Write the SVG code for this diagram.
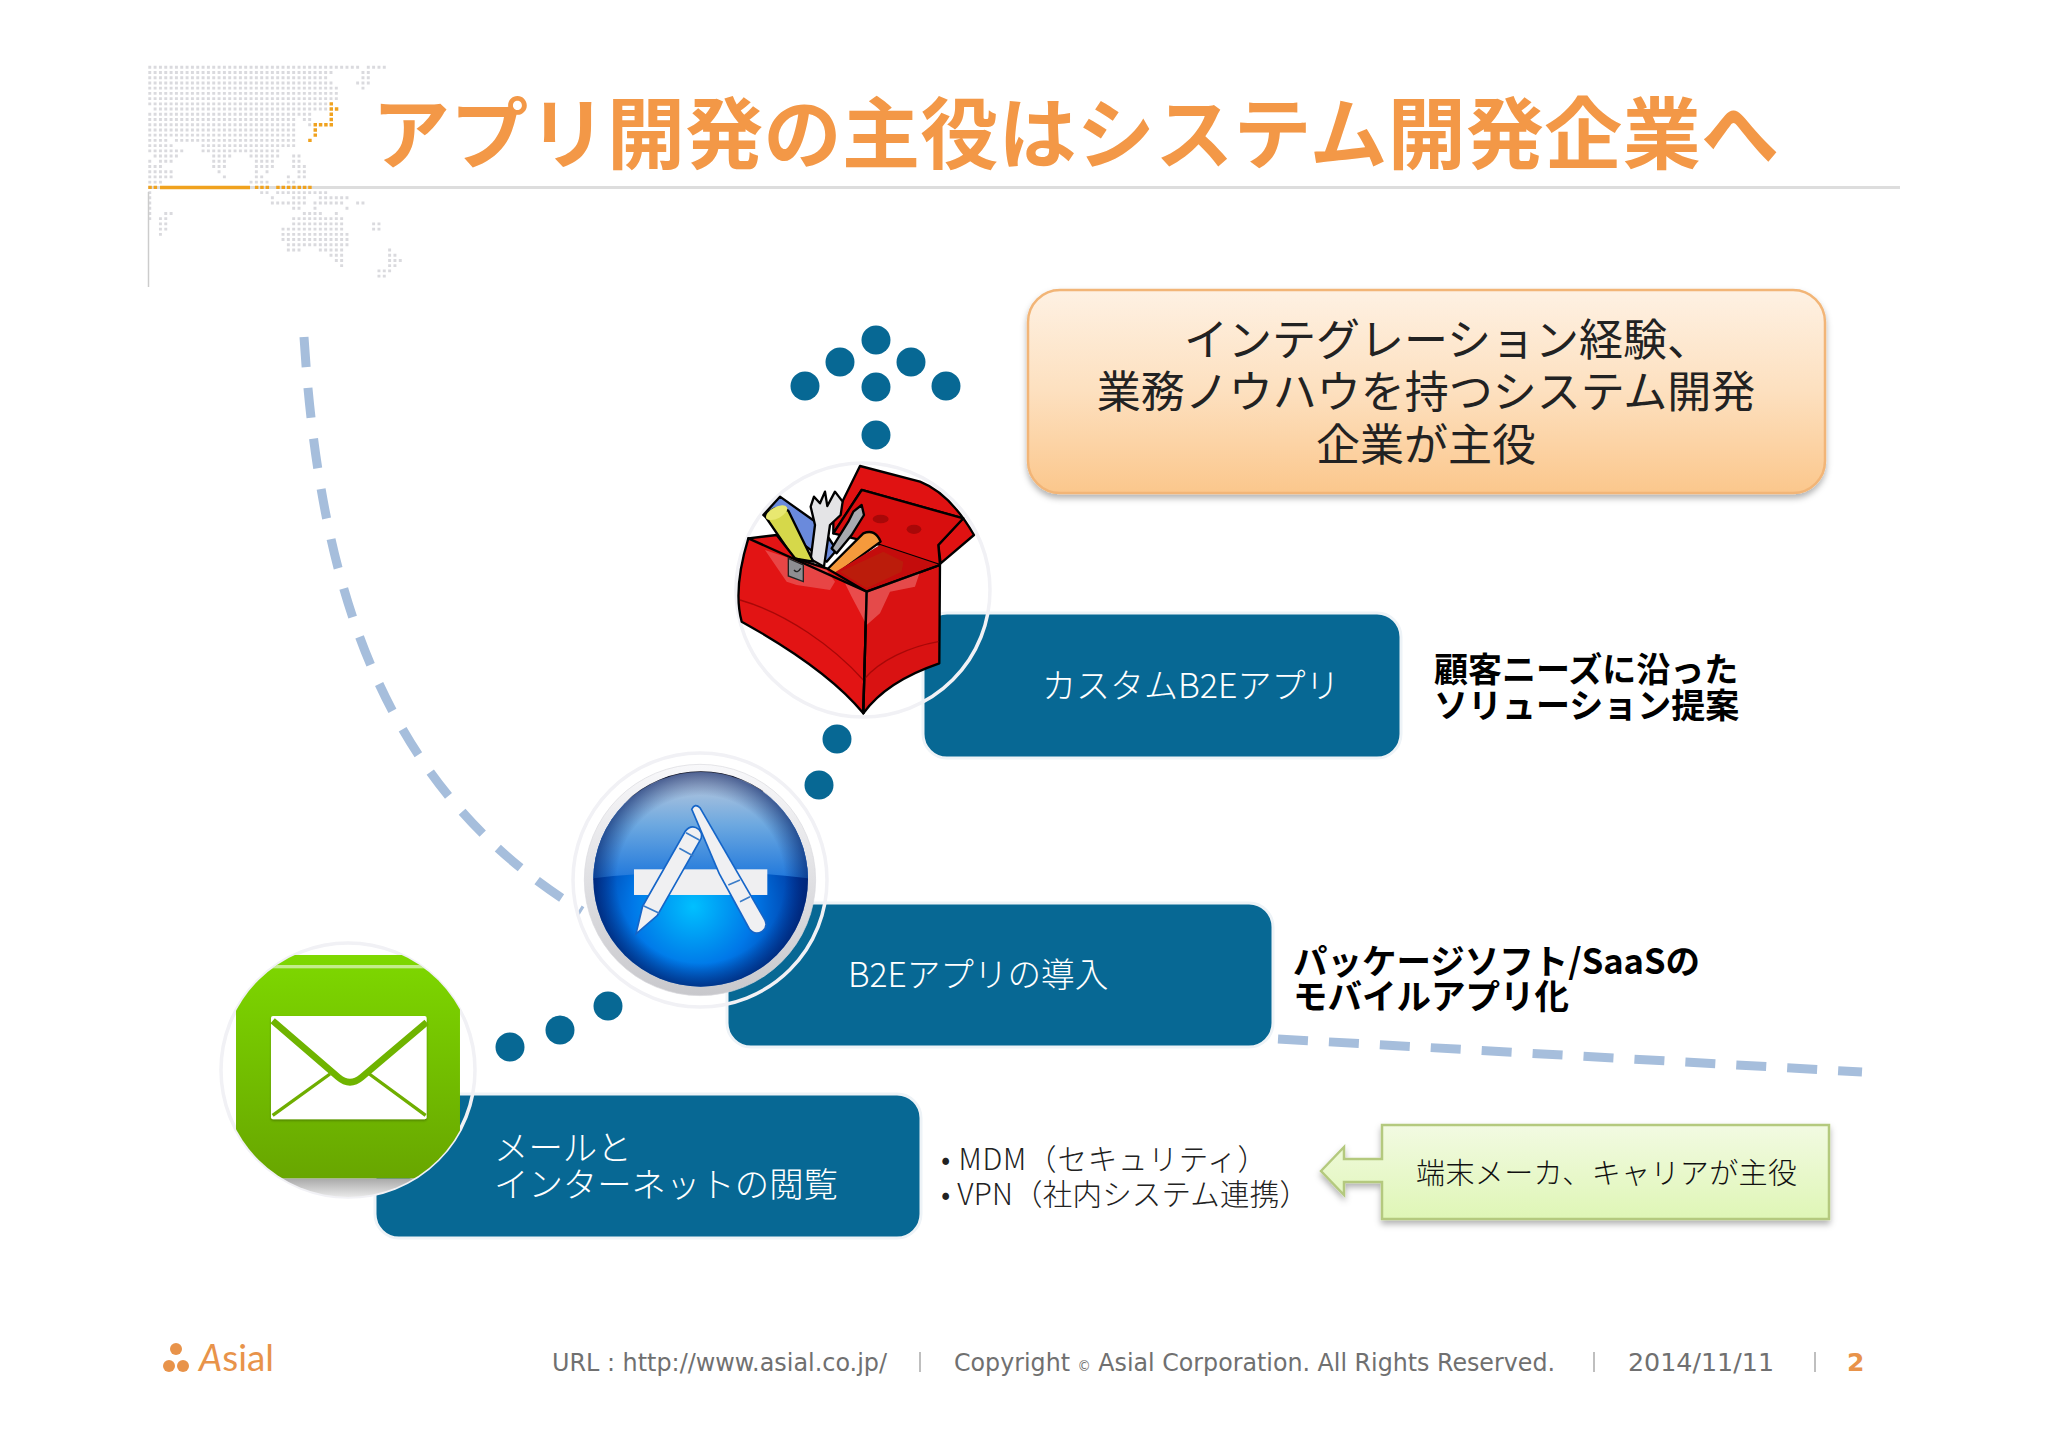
<svg xmlns="http://www.w3.org/2000/svg" width="2048" height="1447" viewBox="0 0 2048 1447">
<defs>
<linearGradient id="gOrange" x1="0" y1="0" x2="0" y2="1"><stop offset="0" stop-color="#FEF1E3"/><stop offset="0.5" stop-color="#FDE0BF"/><stop offset="1" stop-color="#FBC78C"/></linearGradient>
<linearGradient id="gGreenBox" x1="0" y1="0" x2="0" y2="1"><stop offset="0" stop-color="#F2FAE2"/><stop offset="1" stop-color="#DFF6B6"/></linearGradient>
<linearGradient id="gMail" x1="0" y1="0" x2="0" y2="1"><stop offset="0" stop-color="#7ED800"/><stop offset="1" stop-color="#68A600"/></linearGradient>
<linearGradient id="gShade" x1="0" y1="0" x2="0" y2="1"><stop offset="0" stop-color="#A8A8A8"/><stop offset="1" stop-color="#EEEEEE"/></linearGradient>
<linearGradient id="gSilver" x1="0" y1="0" x2="0" y2="1"><stop offset="0" stop-color="#F8F8FA"/><stop offset="1" stop-color="#C8C8CC"/></linearGradient>
<radialGradient id="gBlue" gradientUnits="userSpaceOnUse" cx="400" cy="470" r="330"><stop offset="0" stop-color="#00C0FF"/><stop offset="0.55" stop-color="#0078E8"/><stop offset="1" stop-color="#0038A0"/></radialGradient>
<linearGradient id="gGloss" x1="0" y1="0" x2="0" y2="1"><stop offset="0" stop-color="#C4CCDC"/><stop offset="0.5" stop-color="#6CA8E0"/><stop offset="1" stop-color="#2078DC"/></linearGradient>
<radialGradient id="gEdge" gradientUnits="userSpaceOnUse" cx="422" cy="388" r="322"><stop offset="0.78" stop-color="#001A60" stop-opacity="0"/><stop offset="1" stop-color="#001A60" stop-opacity="0.6"/></radialGradient>
<clipPath id="cMail"><circle cx="415" cy="420" r="381"/></clipPath>
<filter id="fShadow" x="-5%" y="-10%" width="110%" height="125%"><feDropShadow dx="0" dy="4" stdDeviation="3" flood-color="#000" flood-opacity="0.3"/></filter>
</defs>
<style>
text{font-family:"Noto Sans CJK JP","Liberation Sans",sans-serif}
.bar{fill:#076894;stroke:#EEF3F7;stroke-width:3}
.ring{fill:none;stroke:#F1F1F5;stroke-width:3.5}
.dot{fill:#076894}
.dash{fill:none;stroke:#A6BEDC;stroke-width:9;stroke-dasharray:30 21}
.wt{fill:#fff;font-size:34px;font-weight:300}
.bk{fill:#000;font-size:34px;font-weight:700}
.dk{fill:#222;font-size:29.5px;font-weight:300}
.cl{fill:#222;font-size:44px;font-weight:400}
.ft{fill:#707070;font-size:25px;font-family:"DejaVu Sans","Liberation Sans",sans-serif}
.sep{stroke:#AAA;stroke-width:1.5}
.ol{stroke:#000;stroke-width:7;stroke-linejoin:round;stroke-linecap:round}
</style>
<rect width="2048" height="1447" fill="#FFFFFF"/>

<g id="header">
<g transform="translate(148.3 67.3) scale(5.33 5.22)">
<path fill="none" stroke="#DADADE" stroke-width=".55" stroke-dasharray=".55 .45" d="M0 0H39.6M41 0H44.6M0 1H34.6M40 1H41.6M0 2H33.6M40 2H41.6M0 3H34.6M39 3H41.6M0 4H35.6M40 4H40.6M0 5H35.6M0 6H35.6M0 7H33.6M1 8H33.6M0 9H30.6M0 10H27.6M29 10H30.6M0 11H27.6M30 11H30.6M0 12H27.6M0 13H27.6M0 14H3.6M5 14H27.6M0 15H4.6M10 15H27.6M0 16H6.6M10 16H24.6M1 17H5.6M12 17H15.6M19 17H24.6M27 17H28.6M0 18H.6M2 18H4.6M12 18H14.6M20 18H23.6M27 18H28.6M0 19H2.6M12 19H14.6M20 19H23.6M27 19H29.6M0 20H4.6M13 20H13.6M20 20H20.6M22 20H22.6M28 20H29.6M0 21H4.6M14 21H14.6M20 21H21.6M26 21H26.6M28 21H29.6M0 22H2.6M19 22H22.6M26 22H27.6M0 24H.6M21 24H22.6M24 24H33.6M0 25H.6M23 25H23.6M27 25H29.6M32 25H37.6M0 26H.6M23 26H29.6M31 26H36.6M39 26H40.6M0 27H.6M27 27H28.6M31 27H31.6M37 27H37.6M0 28H.6M3 28H4.6M29 28H32.6M35 28H35.6M0 29H.6M2 29H3.6M27 29H36.6M2 30H3.6M27 30H36.6M42 30H43.6M2 31H3.6M25 31H36.6M42 31H43.6M2 32H2.6M25 32H37.6M25 33H37.6M26 34H37.6M26 35H28.6M32 35H36.6M45 35H45.6M34 36H36.6M45 36H46.6M35 37H36.6M45 37H47.6M36 38H36.6M45 38H46.6M43 39H45.6M43 40H44.6"/>
</g>
<line x1="148" y1="187.5" x2="1900" y2="187.5" stroke="#DDDDDD" stroke-width="3"/>
<line x1="148.5" y1="192" x2="148.5" y2="287" stroke="#CCCCCC" stroke-width="1.5"/>
<g transform="translate(148.3 67.3) scale(5.33 5.22)">
<path fill="none" stroke="#F0A21E" stroke-width=".65" stroke-dasharray=".65 .35" d="M34 7H34.65M34 8H35.65M34 9H34.65M34 10H34.65M31 11H34.65M31 12H31.65M31 13H31.65M30 14H30.65M0 23H1.65M20 23H22.65M24 23H30.65"/>
</g>
<line x1="160" y1="187.5" x2="250" y2="187.5" stroke="#F0A21E" stroke-width="3.5"/>
<text x="372" y="163" font-size="78" font-weight="700" fill="#F39847" textLength="1407">アプリ開発の主役はシステム開発企業へ</text>
</g>

<g id="connectors">
<path class="dash" d="M304 337C320 590 383 790 582 911"/>
<path class="dash" d="M1278 1039L1862 1072"/>
<g id="dots">
<circle class="dot" cx="876" cy="340" r="14.5"/>
<circle class="dot" cx="840" cy="362" r="14.5"/>
<circle class="dot" cx="911" cy="362" r="14.5"/>
<circle class="dot" cx="805" cy="386" r="14.5"/>
<circle class="dot" cx="876" cy="387" r="14.5"/>
<circle class="dot" cx="946" cy="386" r="14.5"/>
<circle class="dot" cx="876" cy="435" r="14.5"/>
<circle class="dot" cx="837" cy="739" r="14.5"/>
<circle class="dot" cx="819" cy="785" r="14.5"/>
<circle class="dot" cx="608" cy="1006" r="14.5"/>
<circle class="dot" cx="560" cy="1030" r="14.5"/>
<circle class="dot" cx="510" cy="1047" r="14.5"/>
</g>
</g>

<g id="callout-orange">
<rect x="1028" y="290" width="797" height="203" rx="32" fill="url(#gOrange)" stroke="#F2B577" stroke-width="2.5" filter="url(#fShadow)"/>
<text class="cl" x="1184" y="356">インテグレーション経験、</text>
<text class="cl" x="1426" y="408" text-anchor="middle">業務ノウハウを持つシステム開発</text>
<text class="cl" x="1426" y="461" text-anchor="middle">企業が主役</text>
</g>

<g id="node-custom">
<rect class="bar" x="923" y="613" width="478" height="145" rx="24"/>
<circle class="ring" cx="863" cy="590" r="127"/>
<g transform="translate(720 450) scale(.3333)">
<path class="ol" fill="#E01212" d="M420 48L600 95Q690 130 762 255L662 340L655 285L730 205L425 120L340 250L340 210Z"/>
<path class="ol" fill="#D80E0E" d="M425 120L730 205L655 285L660 345L480 285L340 250Z"/>
<ellipse cx="482" cy="207" rx="24" ry="13" fill="#A80808"/>
<ellipse cx="582" cy="238" rx="22" ry="14" fill="#A80808"/>
<path class="ol" stroke-width="5" fill="#6A8ADC" d="M180 140L300 225L350 300L320 335L130 195Z"/>
<path class="ol" stroke-width="5" fill="#A8AAB0" d="M425 165L432 195L395 255L350 310L335 295L385 215L400 185Z"/>
<path class="ol" stroke-width="5" fill="#E4E4E6" d="M315 125L322 168L345 125L368 155L362 195L330 225L312 350L272 328L285 225L272 170L282 140L300 160Z"/>
<path class="ol" stroke-width="5" fill="#D6D84A" d="M135 198Q165 160 205 182L280 335L222 325Z"/>
<ellipse cx="170" cy="188" rx="35" ry="17" fill="#E8E870" transform="rotate(-28 170 188)"/>
<path class="ol" stroke-width="5" fill="#F59A3C" d="M320 360L430 250Q465 235 482 275L350 372Z"/>
<path fill="#C40C0C" d="M340 370L480 285L660 345L440 425Z"/>
<path class="ol" fill="#E21414" d="M85 265L170 255L225 325L320 355L440 425L430 790C340 680 200 590 65 515C50 460 50 380 85 265Z"/>
<path class="ol" fill="#D91212" d="M440 425L660 345L658 640C570 670 480 720 430 790Z"/>
<path d="M135 300L225 330L320 360L345 395L330 420L230 405L200 395Z" fill="#F08080" opacity=".45"/>
<path d="M375 400L440 425L600 365L585 410L510 425L480 490L440 525L395 440Z" fill="#F49090" opacity=".45"/>
<path d="M360 365L490 305L550 335L545 365L440 415Z" fill="#B8240C" opacity=".7"/>
<path d="M60 450C200 490 340 590 430 690C480 630 570 590 655 575" fill="none" stroke="#A80808" stroke-width="4"/>
<path class="ol" fill="none" d="M85 265L440 425L430 790M440 425L660 345"/>
<path fill="#8E8E92" stroke="#222" stroke-width="4" d="M205 325L250 345L250 395L205 378Z"/>
<path d="M222 360Q232 372 242 355" fill="none" stroke="#222" stroke-width="4"/>
</g>
<text class="wt" x="1042" y="698">カスタムB2Eアプリ</text>
</g>
<text class="bk" x="1434" y="682">顧客ニーズに沿った</text>
<text class="bk" x="1434" y="718">ソリューション提案</text>

<g id="node-b2e">
<rect class="bar" x="727" y="903" width="546" height="144" rx="24"/>
<circle class="ring" cx="700" cy="880" r="127"/>
<g transform="translate(560 750) scale(.3333)">
<circle cx="420" cy="390" r="347" fill="url(#gSilver)" stroke="#DADADE" stroke-width="2"/>
<circle cx="422" cy="388" r="322" fill="url(#gBlue)"/>
<path d="M422 66A322 322 0 0 0 100 385Q420 345 744 385A322 322 0 0 0 422 66Z" fill="url(#gGloss)"/>
<circle cx="422" cy="388" r="322" fill="url(#gEdge)"/>
<path d="M195 158A322 322 0 0 1 650 158A328 328 0 0 0 195 158Z" fill="#080C20"/>
<rect x="222" y="358" width="400" height="77" fill="#EFEFF1"/>
<path d="M232 545L250 470L378 245Q395 225 415 240Q428 255 418 270L290 495Z" fill="#F0F0F2" stroke="#1565C8" stroke-width="10" paint-order="stroke"/>
<path d="M398 178Q405 162 418 175L612 510Q622 530 605 542Q585 555 570 535L480 370Z" fill="#F0F0F2" stroke="#1565C8" stroke-width="10" paint-order="stroke"/>
<path d="M378 248L418 270M358 295L400 318M250 467L298 490M505 405L540 390M540 455L570 440" stroke="#3A7CC8" stroke-width="5" fill="none"/>
</g>
<text class="wt" x="848" y="987" style="font-size:33.6px">B2Eアプリの導入</text>
</g>
<text class="bk" x="1293" y="974" style="font-size:34.5px">パッケージソフト/SaaSの</text>
<text class="bk" x="1293" y="1009" style="font-size:34.5px">モバイルアプリ化</text>

<g id="node-mail">
<rect class="bar" x="375" y="1094" width="546" height="144" rx="24"/>
<circle class="ring" cx="348" cy="1070" r="127"/>
<g transform="translate(210 930) scale(.3333)">
<g clip-path="url(#cMail)">
<rect x="78" y="745" width="672" height="60" fill="url(#gShade)"/>
<rect x="78" y="75" width="672" height="670" fill="url(#gMail)"/>
<rect x="78" y="105" width="672" height="10" fill="#fff" opacity=".55"/>
</g>
<rect x="183" y="258" width="467" height="310" rx="6" fill="#FFFFFF" filter="url(#fShadow)"/>
<path d="M188 272L385 442Q420 472 455 442L650 277" fill="none" stroke="#6FB400" stroke-width="20"/>
<path d="M188 556L360 432M478 432L647 556" fill="none" stroke="#6FAE00" stroke-width="10"/>
</g>
<text class="wt" x="494" y="1160" style="font-size:34.4px">メールと</text>
<text class="wt" x="494" y="1197" style="font-size:34.4px">インターネットの閲覧</text>
</g>
<text class="dk" x="941" y="1170" textLength="326">• MDM（セキュリティ）</text>
<text class="dk" x="941" y="1205" textLength="368">• VPN（社内システム連携）</text>

<g id="callout-green">
<path d="M1321 1171L1344 1147V1159H1382V1125H1829V1219H1382V1182H1344V1195Z" fill="url(#gGreenBox)" stroke="#B4C97E" stroke-width="2.5" filter="url(#fShadow)"/>
<text x="1416" y="1184" font-size="29" font-weight="300" fill="#111" textLength="381">端末メーカ、キャリアが主役</text>
</g>

<g id="footer">
<circle cx="176" cy="1349" r="6" fill="#E8934A"/>
<circle cx="169" cy="1366" r="6" fill="#E8934A"/>
<circle cx="183" cy="1366" r="6" fill="#E8934A"/>
<text x="199" y="1371" fill="#E8934A" font-size="36" font-weight="400" style="font-family:Lato,'Liberation Sans',sans-serif" textLength="75" lengthAdjust="spacingAndGlyphs"><tspan font-style="italic">A</tspan>sial</text>
<text class="ft" x="552" y="1371" textLength="335" lengthAdjust="spacingAndGlyphs">URL : http://www.asial.co.jp/</text>
<line class="sep" x1="920" y1="1352" x2="920" y2="1372"/>
<text class="ft" x="954" y="1371" textLength="601" lengthAdjust="spacingAndGlyphs">Copyright <tspan font-size="14">©</tspan> Asial Corporation. All Rights Reserved.</text>
<line class="sep" x1="1594" y1="1352" x2="1594" y2="1372"/>
<text class="ft" x="1628" y="1371" textLength="146" lengthAdjust="spacingAndGlyphs">2014/11/11</text>
<line class="sep" x1="1815" y1="1352" x2="1815" y2="1372"/>
<text class="ft" x="1847" y="1371" style="fill:#E8934A;font-weight:700">2</text>
</g>
</svg>
